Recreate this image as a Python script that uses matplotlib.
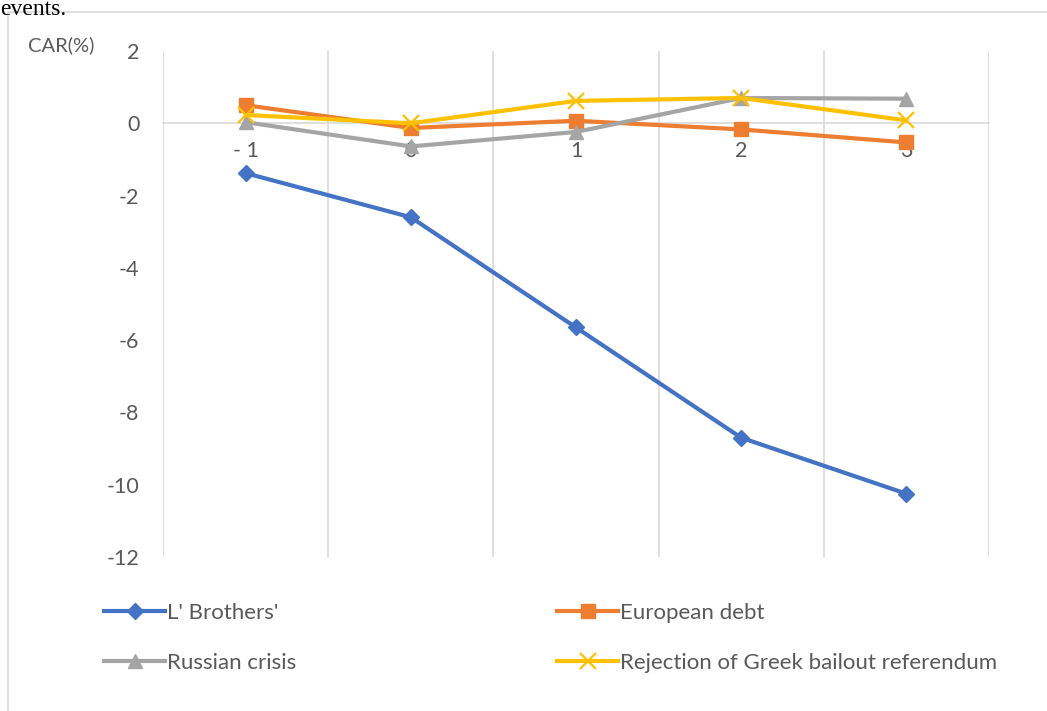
import matplotlib
matplotlib.use("Agg")
import matplotlib.pyplot as plt
from matplotlib.patches import Rectangle

categories = ["- 1", "0", "1", "2", "3"]
lehman = [-1.38, -2.6, -5.65, -8.7, -10.25]
european_debt = [0.5, -0.13, 0.07, -0.17, -0.53]
russian_crisis = [0.03, -0.64, -0.24, 0.7, 0.68]
greek_referendum = [0.23, 0.0, 0.62, 0.7, 0.08]

series_names = ["L' Brothers'", "European debt", "Russian crisis",
                "Rejection of Greek bailout referendum"]
colors = ["#4472C4", "#ED7D31", "#A5A5A5", "#FFC000"]
markers = ["D", "s", "^", "x"]
msizes = [8, 10, 10, 11]

plt.rcParams['font.family'] = ['Lato', 'DejaVu Sans']
TXT = "#595959"

fig = plt.figure(figsize=(10.47, 7.11), dpi=100)
ax = fig.add_axes([163/1047, 1-557/711, (989-163)/1047, (557-51)/711])

x = list(range(len(categories)))
data = [lehman, european_debt, russian_crisis, greek_referendum]
handles = []
for vals, c, m, ms, name in zip(data, colors, markers, msizes, series_names):
    mew = 1.6 if m == "x" else 1
    h, = ax.plot(x, vals, color=c, lw=3, marker=m, ms=ms, mec=c, mfc=c,
                 mew=mew, label=name, zorder=3, clip_on=False)
    handles.append(h)

ax.set_xlim(-0.5, len(categories) - 0.5)
ax.set_ylim(-12, 2)
ax.set_yticks(range(-12, 3, 2))
ax.set_yticklabels([str(v) for v in range(-12, 3, 2)])
ax.set_xticks(x)
ax.set_xticklabels(categories)

for b in [i - 0.5 for i in range(len(categories) + 1)]:
    ax.axvline(b, color="#D9D9D9", lw=1.2, zorder=0)

for s in ["left", "right", "top"]:
    ax.spines[s].set_visible(False)
ax.spines["bottom"].set_position(("data", 0))
ax.spines["bottom"].set_color("#D9D9D9")
ax.spines["bottom"].set_linewidth(1.2)
ax.spines["bottom"].set_zorder(1)

ax.tick_params(axis="both", length=0, colors=TXT, labelsize=15.5)
ax.tick_params(axis="x", pad=13)
ax.tick_params(axis="y", pad=17)
for lab in ax.get_xticklabels() + ax.get_yticklabels():
    lab.set_zorder(4)

fig.text(28/1047, 1-45/711, "CAR(%)", fontsize=14.5, color=TXT, va="center", ha="left")

leg_kw = dict(frameon=False, fontsize=16, handlelength=2.75, handletextpad=0.1,
              labelspacing=1.35, labelcolor=TXT, borderaxespad=0, borderpad=0)
fig.legend([handles[0], handles[2]], [series_names[0], series_names[2]],
           loc="upper left", bbox_to_anchor=(104/1047, 1-603/711), **leg_kw)
fig.legend([handles[1], handles[3]], [series_names[1], series_names[3]],
           loc="upper left", bbox_to_anchor=(557/1047, 1-603/711), **leg_kw)

fig.patches.append(Rectangle((8/1047, -0.01), 1.05, 1-12/711+0.01,
                             transform=fig.transFigure, fill=False,
                             edgecolor="#D9D9D9", lw=1.2))

fig.text(0/1047, 1-15/711, "events.", fontsize=17, family="Liberation Serif",
         color="black", va="baseline", ha="left")

fig.savefig("out.png", dpi=100)
